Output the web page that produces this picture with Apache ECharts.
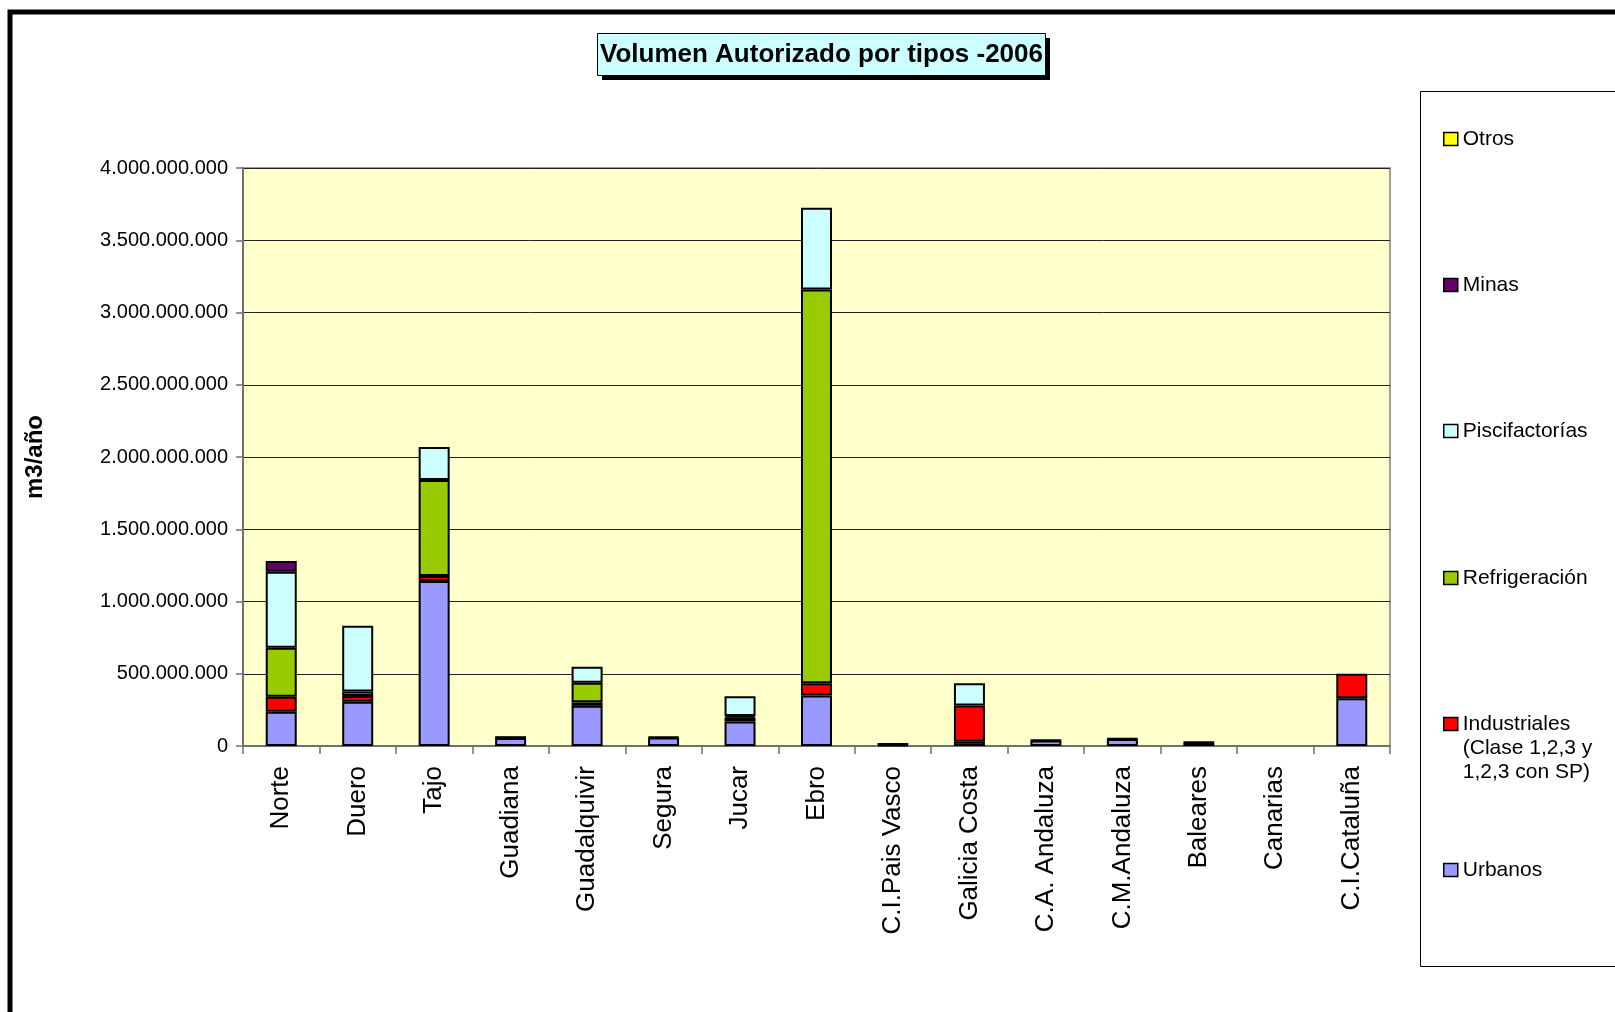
<!DOCTYPE html>
<html>
<head>
<meta charset="utf-8">
<script src="https://cdn.jsdelivr.net/npm/echarts@6/dist/echarts.min.js"></script>
<style>
html,body{margin:0;padding:0;background:#fff;}
#chart{width:1615px;height:1012px;}
</style>
</head>
<body>
<div id="chart"></div>
<script>
const categories = ['Norte','Duero','Tajo','Guadiana','Guadalquivir','Segura','Jucar','Ebro','C.I.Pais Vasco','Galicia Costa','C.A. Andaluza','C.M.Andaluza','Baleares','Canarias','C.I.Cataluña'];
const urbanos        = [237000000, 306000000, 1142000000, 55000000, 278000000, 58000000, 170000000, 350000000, 6000000, 30000000, 38000000, 48000000, 24000000, 0, 330000000];
const industriales   = [104000000, 40000000, 35000000, 5000000, 24000000, 4000000, 28000000, 85000000, 6000000, 250000000, 3000000, 3000000, 3000000, 0, 170000000];
const refrigeracion  = [339000000, 32000000, 664000000, 0, 136000000, 0, 10000000, 2724000000, 0, 0, 0, 0, 0, 0, 0];
const piscifactorias = [526000000, 455000000, 229000000, 0, 110000000, 0, 137000000, 566000000, 0, 155000000, 0, 0, 0, 0, 0];
const minas          = [74000000, 0, 0, 2000000, 0, 0, 0, 0, 2000000, 0, 0, 0, 0, 0, 0];
const otros          = [0, 0, 0, 0, 0, 0, 0, 0, 0, 0, 0, 0, 0, 0, 0];
const yTicks = ['0','500.000.000','1.000.000.000','1.500.000.000','2.000.000.000','2.500.000.000','3.000.000.000','3.500.000.000','4.000.000.000'];
const titleText = 'Volumen Autorizado por tipos -2006';

const FONT = "'Liberation Sans', Arial, sans-serif";
const seriesDefs = [
  {name:'Urbanos', data:urbanos, color:'#9999FF'},
  {name:'Industriales', data:industriales, color:'#FF0000'},
  {name:'Refrigeración', data:refrigeracion, color:'#99CC00'},
  {name:'Piscifactorías', data:piscifactorias, color:'#CCFFFF'},
  {name:'Minas', data:minas, color:'#660066'},
  {name:'Otros', data:otros, color:'#FFFF00'}
];
const legendLayout = [
  {name:'Otros', center:134, label:'Otros'},
  {name:'Minas', center:280, label:'Minas'},
  {name:'Piscifactorías', center:426, label:'Piscifactorías'},
  {name:'Refrigeración', center:573, label:'Refrigeración'},
  {name:'Industriales', center:719, label:'\n\nIndustriales\n(Clase 1,2,3 y\n1,2,3 con SP)', lines:5},
  {name:'Urbanos', center:865, label:'Urbanos'}
];
const LH = 24;

const chart = echarts.init(document.getElementById('chart'), null, {renderer:'canvas'});
const option = {
  animation:false,
  backgroundColor:'#ffffff',
  legend: legendLayout.map(l => {
    const n = l.lines || 1;
    return {
      data:[l.name],
      orient:'vertical',
      left:1438,
      top: l.center - (n*LH)/2,
      itemWidth:14, itemHeight:13,
      icon:'rect',
      selectedMode:false,
      formatter: () => l.label,
      itemStyle:{borderColor:'#000', borderWidth:1.5},
      textStyle:{fontFamily:FONT, fontSize:21, color:'#000', lineHeight:LH}
    };
  }),
  grid:{
    left:243, right:225, top:168, bottom:266,
    show:true, backgroundColor:'#FFFFCC', borderColor:'#808080', borderWidth:1.5
  },
  xAxis:{
    type:'category',
    data:categories,
    axisLine:{lineStyle:{color:'#707070', width:2}},
    axisTick:{show:true, length:8, lineStyle:{color:'#707070', width:1.5}, alignWithLabel:false},
    axisLabel:{rotate:90, margin:20, fontFamily:FONT, fontSize:26, color:'#000', interval:0}
  },
  yAxis:{
    type:'value',
    min:0, max:4000000000, interval:500000000,
    name:'m3/año',
    nameLocation:'middle',
    nameRotate:90,
    nameGap:196,
    nameTextStyle:{fontFamily:FONT, fontWeight:'bold', fontSize:24, color:'#000'},
    axisLine:{show:true, lineStyle:{color:'#707070', width:2}},
    axisTick:{show:true, length:7, lineStyle:{color:'#707070', width:1.5}},
    axisLabel:{margin:15, fontFamily:FONT, fontSize:20, color:'#000',
      formatter:(v)=> yTicks[Math.round(v/500000000)]},
    splitLine:{show:true, lineStyle:{color:'#222', width:1}}
  },
  graphic:[
    {type:'rect', shape:{x:10, y:12, width:1700, height:1100}, style:{fill:null, stroke:'#000', lineWidth:5}, z:100, silent:true},
    {type:'rect', shape:{x:1420.5, y:91.5, width:300, height:875}, style:{fill:null, stroke:'#000', lineWidth:1}, z:-1, silent:true},
    {type:'rect', shape:{x:602, y:38, width:448, height:42}, style:{fill:'#000'}, z:50, silent:true},
    {type:'rect', shape:{x:597.5, y:33.5, width:448, height:42}, style:{fill:'#CCFFFF', stroke:'#000', lineWidth:1}, z:51, silent:true},
    {type:'text', x:821.5, y:54.5, style:{text:titleText, fontFamily:FONT, fontWeight:'bold', fontSize:26, fill:'#000', align:'center', verticalAlign:'middle'}, z:52, silent:true}
  ],
  series: seriesDefs.map(s => ({
    name:s.name,
    type:'bar',
    stack:'total',
    barWidth:31,
    data:s.data.map(v => v === 0 ? null : v),
    itemStyle:{color:s.color, borderColor:'#000', borderWidth:2},
    emphasis:{disabled:true}
  }))
};
chart.setOption(option);
</script>
</body>
</html>
